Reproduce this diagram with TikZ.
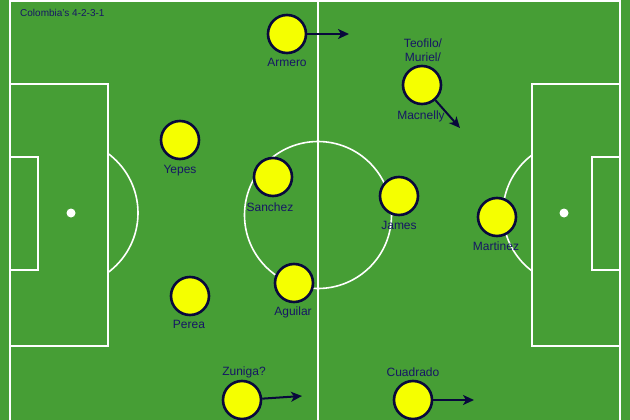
\documentclass[tikz,border=0pt]{standalone}
\usepackage{fontspec}
\setmainfont{Liberation Sans}
\usetikzlibrary{arrows.meta}
\definecolor{pitch}{RGB}{70,158,53}
\definecolor{navy}{RGB}{8,8,60}
\definecolor{labnavy}{RGB}{22,22,100}
\definecolor{shirt}{RGB}{245,255,0}
\tikzset{
  pline/.style={draw=white, line width=2pt},
  player/.style={circle, draw=navy, fill=shirt, line width=2.6pt, minimum size=38pt, inner sep=0pt},
  plabel/.style={text=labnavy, font=\fontsize{12}{14}\selectfont, inner sep=0pt, text height=8.6pt, text depth=0pt, align=center},
  runarrow/.style={draw=navy, line width=2pt, -{Stealth[length=11pt,width=10pt,inset=3pt]}}
}
\begin{document}
\begin{tikzpicture}[x=1pt,y=-1pt]
\useasboundingbox (0,0) rectangle (630,420);
\fill[pitch] (0,0) rectangle (630,420);
% pitch lines
\draw[pline] (10,425) -- (10,1) -- (620,1) -- (620,425);
\draw[pline] (318,0) -- (318,425);
\draw[pline] (17,1) arc[start angle=0, end angle=-90, radius=7];
\draw[pline] (613,1) arc[start angle=180, end angle=270, radius=7];
% centre circle
\draw[white, line width=1.6pt] (318,215) circle[radius=73.5];
% left penalty area
\draw[pline] (10,84) -- (108,84) -- (108,346) -- (10,346);
\draw[pline] (10,157) -- (38,157) -- (38,270) -- (10,270);
\fill[white] (71,213) circle[radius=4.5];
\begin{scope}
\clip (108,0) rectangle (200,420);
\draw[white, line width=1.6pt] (64,213) circle[radius=74];
\end{scope}
% right penalty area
\draw[pline] (620,84) -- (532,84) -- (532,346) -- (620,346);
\draw[pline] (620,157) -- (592,157) -- (592,270) -- (620,270);
\fill[white] (564,213) circle[radius=4.5];
\begin{scope}
\clip (440,0) rectangle (532,420);
\draw[white, line width=1.6pt] (575.5,213) circle[radius=72.5];
\end{scope}
% title
\node[anchor=west, text=labnavy, font=\fontsize{10}{12}\selectfont, inner sep=0pt] (title) at (20,13) {Colombia's 4-2-3-1};
% players
\node[player] (armero) at (287,34) {};
\node[player] (teo) at (422,85) {};
\node[player] (yepes) at (180,140) {};
\node[player] (sanchez) at (273,177) {};
\node[player] (aguilar) at (294,283) {};
\node[player] (perea) at (190,296) {};
\node[player] (james) at (399,196) {};
\node[player] (martinez) at (497,217) {};
\node[player] (zuniga) at (242,400) {};
\node[player] (cuadrado) at (413,400) {};
% labels
\node[plabel] (larmero) at (287,62) {Armero};
\node[plabel] (lteo1) at (423,43) {Teofilo/};
\node[plabel] (lteo2) at (423,57) {Muriel/};
\node[plabel] (lteo3) at (421,115) {Macnelly};
\node[plabel] (lyepes) at (180,169) {Yepes};
\node[plabel] (lsanchez) at (270,207) {Sanchez};
\node[plabel] (laguilar) at (293,311) {Aguilar};
\node[plabel] (lperea) at (189,324) {Perea};
\node[plabel] (ljames) at (399,225) {James};
\node[plabel] (lmartinez) at (496,246) {Martinez};
\node[plabel] (lzuniga) at (244,371) {Zuniga?};
\node[plabel] (lcuadrado) at (413,372) {Cuadrado};
% runs
\coordinate (tarmero) at (349,34);
\coordinate (tteo) at (460,128);
\coordinate (tzuniga) at (302,396);
\coordinate (tcuadrado) at (474,400);
\draw[runarrow] (armero) -- (tarmero);
\draw[runarrow] (teo) -- (tteo);
\draw[runarrow] (zuniga) -- (tzuniga);
\draw[runarrow] (cuadrado) -- (tcuadrado);
\end{tikzpicture}
\end{document}
